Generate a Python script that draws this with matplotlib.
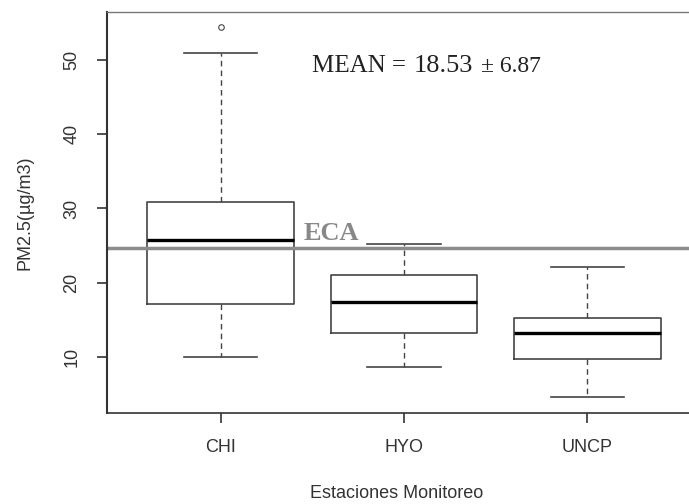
import numpy as np
import matplotlib.pyplot as plt

# Datos (PM2.5 en ug/m3)
estaciones = ["CHI", "HYO", "UNCP"]
q1 = [17.1, 13.2, 9.7]
mediana = [25.8, 17.4, 13.3]
q3 = [30.9, 21.0, 15.2]
bigote_inf = [10.0, 8.6, 4.6]
bigote_sup = [50.9, 25.2, 22.1]
atipicos = [[54.4], [], []]
eca = 24.7
media = "18.53"
desv = "6.87"

stats = []
for i, nombre in enumerate(estaciones):
    stats.append({
        "label": nombre,
        "q1": q1[i], "med": mediana[i], "q3": q3[i],
        "whislo": bigote_inf[i], "whishi": bigote_sup[i],
        "fliers": atipicos[i],
    })

plt.rcParams["font.family"] = ["Liberation Sans", "DejaVu Sans"]

fig = plt.figure(figsize=(6.89, 5.04), dpi=100)
ax = fig.add_axes([107/689, 91/504, 594/689, 401/504])

ax.bxp(stats, positions=[1, 2, 3], widths=0.8,
       boxprops=dict(color="#444444", lw=1.2),
       medianprops=dict(color="black", lw=2.4),
       whiskerprops=dict(color="#444444", lw=1, linestyle=(0, (4, 3))),
       capprops=dict(color="#444444", lw=1.2),
       flierprops=dict(marker="o", markersize=4, markerfacecolor="none",
                       markeredgecolor="#444444", markeredgewidth=0.8))

ax.axhline(eca, color="#8c8c8c", lw=2.5)
ax.text(1.45, eca + 1.05, "ECA", family="Liberation Serif", fontweight="bold",
        fontsize=19, color="#888888", va="baseline", ha="left")

# texto de la media, en tres piezas sobre la misma linea base
serif = dict(family="Liberation Serif", color="#222222", va="baseline", ha="left")
base = 1 - 72/504
fig.text(312/689, base, "MEAN =", fontsize=18, **serif)
fig.text(414/689, base, media, fontsize=19, **serif)
fig.text(481/689, base, "\u00b1 " + desv, fontsize=17, **serif)

ax.set_xlim(0.38, 3.62)
ax.set_ylim(2.46, 56.46)
ax.set_yticks([10, 20, 30, 40, 50])
ax.set_yticklabels(["10", "20", "30", "40", "50"], rotation=90, va="center")
ax.set_xticks([1, 2, 3])
ax.set_xticklabels(estaciones)
ax.tick_params(axis="both", direction="out", length=7, width=1.2,
               labelsize=13, colors="#333333")
ax.tick_params(axis="x", pad=12)
ax.tick_params(axis="y", pad=12)
for lado in ["left", "bottom", "top"]:
    ax.spines[lado].set_color("#333333")
ax.spines["left"].set_linewidth(1.5)
ax.spines["bottom"].set_linewidth(1.2)
ax.spines["top"].set_linewidth(1.0)
ax.spines["top"].set_color("#777777")
ax.spines["right"].set_visible(False)

ax.set_xlabel("Estaciones Monitoreo", fontsize=13, color="#333333")
ax.set_ylabel("PM2.5(\u00b5g/m3)", fontsize=13, color="#333333")
ax.xaxis.set_label_coords((397 - 107) / 594, -(493 - 413) / 401)
ax.yaxis.set_label_coords(-(107 - 25) / 594, 0.5)
ax.xaxis.label.set_va("center")
ax.yaxis.label.set_va("center")

fig.savefig("out.png", dpi=100)
